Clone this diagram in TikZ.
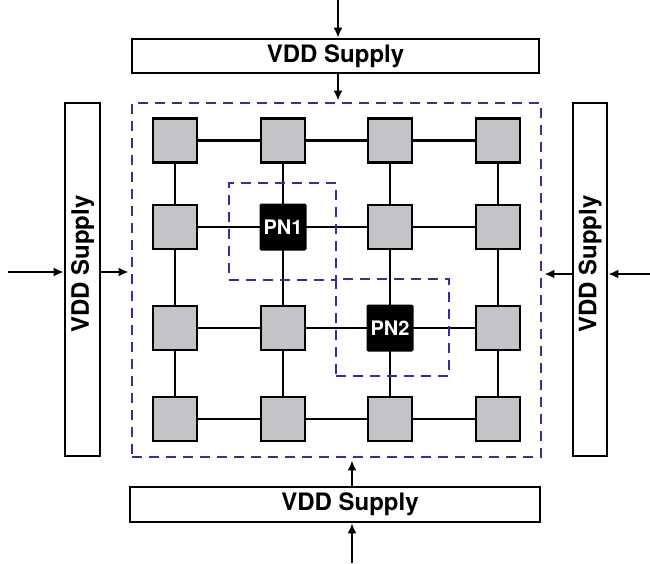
\documentclass[tikz,border=0pt]{standalone}
\usepackage{fontspec}
\setmainfont{TeX Gyre Heros}
\usetikzlibrary{arrows.meta,positioning}
\definecolor{regblue}{RGB}{48,48,158}
\definecolor{cellgray}{RGB}{196,195,200}

\begin{document}
\begin{tikzpicture}[x=1pt, y=-1pt,
    supply/.style={draw, line width=2.6pt, inner sep=0pt, fill=white,
                   font=\fontsize{24}{26}\selectfont\bfseries},
    cell/.style={draw, line width=2.6pt, fill=cellgray, minimum size=44pt, inner sep=0pt},
    pn/.style={fill=black, rounded corners=2pt, minimum size=47pt, inner sep=0pt,
               text=white, font=\fontsize{20}{22}\selectfont\bfseries},
    region/.style={draw=regblue, line width=2.8pt, dash pattern=on 10pt off 7pt,
                   inner sep=0pt},
    feed/.style={-{Latex[length=10pt,width=9pt]}, line width=2.2pt},
    wire/.style={line width=2.3pt}
]
    \useasboundingbox (0,0) rectangle (650,563);

    % supply rails round the grid
    \node[supply, minimum width=407pt, minimum height=34pt] (top) at (335.5,56) {VDD Supply};
    \node[supply, minimum width=410pt, minimum height=35pt] (bottom) at (335,504.5)
        {\hspace*{30pt}VDD Supply};
    \node[supply, rotate=90, minimum width=353pt, minimum height=35pt] (left) at (82.5,279.5)
        {\hspace*{31pt}VDD Supply};
    \node[supply, rotate=90, minimum width=353pt, minimum height=34pt] (right) at (590,279.5)
        {\hspace*{31pt}VDD Supply};

    % power grid region
    \node[region, minimum width=409pt, minimum height=354pt] (chip) at (336.5,280) {};

    % grid nodes
    \foreach \r/\y in {1/140.5, 2/227, 3/328, 4/419} {
        \foreach \c/\x in {1/175, 2/283, 3/390, 4/498} {
            \coordinate (p\r\c) at (\x,\y);
        }
    }
    \foreach \r in {1,...,4} {
        \draw[wire] (p\r1) -- (p\r2) -- (p\r3) -- (p\r4);
        \draw[wire] (p1\r) -- (p2\r) -- (p3\r) -- (p4\r);
    }
    \foreach \r in {1,...,4} {
        \foreach \c in {1,...,4} {
            \ifnum\r\c=22 \else \ifnum\r\c=33 \else
                \node[cell] (n\r\c) at (p\r\c) {};
            \fi\fi
        }
    }
    \node[pn] (pn1) at (p22) {PN1};
    \node[pn] (pn2) at (p33) {PN2};

    % local regions of the probe nodes
    \node[region, minimum width=107pt, minimum height=97pt] (reg1) at (282.5,231.5) {};
    \node[region, minimum width=113pt, minimum height=97pt] (reg2) at (392.5,327.5) {};

    % supply feeds
    \coordinate (topin) at (338,0);
    \coordinate (botin) at (352,563);
    \coordinate (leftin) at (8,272);
    \coordinate (rightin) at (650,274);
    \draw[feed] (topin) -- (topin |- top.north);
    \draw[feed] (topin |- top.south) -- ([yshift=1pt]topin |- chip.north);
    \draw[feed] (botin) -- (botin |- bottom.south);
    \draw[feed] (botin |- bottom.north) -- ([yshift=-2pt]botin |- chip.south);
    \draw[feed] (leftin) -- (leftin -| left.north);
    \draw[feed] (leftin -| left.south) -- ([xshift=-2pt]leftin -| chip.west);
    \draw[feed] (rightin) -- (rightin -| right.south);
    \draw[feed] (rightin -| right.north) -- ([xshift=2pt]rightin -| chip.east);
\end{tikzpicture}
\end{document}
